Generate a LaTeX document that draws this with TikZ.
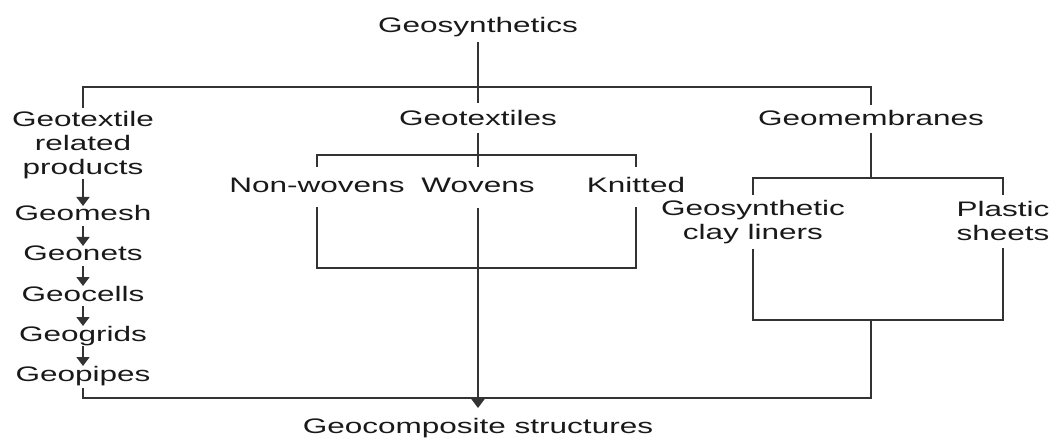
\documentclass[tikz,border=0pt]{standalone}
\usepackage{fontspec}
\setmainfont{Liberation Sans}[FakeStretch=1.5]
\usetikzlibrary{arrows.meta,calc}
\tikzset{
  lbl/.style={inner sep=0pt, outer sep=0pt, font=\fontsize{21}{24}\selectfont, text=black!90, text height=15pt, text depth=5pt, anchor=base},
  mlbl/.style={inner sep=0pt, outer sep=0pt, font=\fontsize{21}{24}\selectfont, text=black!90, align=center, anchor=north},
  conn/.style={draw=black!80, line width=1.6pt},
  arr/.style={conn, -{Triangle[width=13pt,length=9pt]}}
}
\begin{document}
\begin{tikzpicture}[x=1pt,y=-1pt]
\useasboundingbox (0,0) rectangle (1054,438);
% nodes
\node[lbl] (gs) at (478,33) {Geosynthetics};
\node[lbl] (gt) at (478,126) {Geotextiles};
\node[lbl] (gm) at (871,126) {Geomembranes};
\node[mlbl] (gtr) at (83,111) {Geotextile\\related\\products};
\node[lbl] (mesh) at (83,221) {Geomesh};
\node[lbl] (nets) at (83,261) {Geonets};
\node[lbl] (cells) at (83,301) {Geocells};
\node[lbl] (grids) at (83,341) {Geogrids};
\node[lbl] (pipes) at (83,381) {Geopipes};
\node[lbl] (nw) at (317,193) {Non-wovens};
\node[lbl] (wv) at (478,193) {Wovens};
\node[lbl] (kn) at (636,193) {Knitted};
\node[mlbl] (gcl) at (753,200) {Geosynthetic\\clay liners};
\node[mlbl] (ps) at (1003,201) {Plastic\\sheets};
\node[lbl] (gc) at (478,433) {Geocomposite structures};
% junctions
\coordinate (j1) at (478,87);
\coordinate (b1) at (478,155);
\coordinate (b2) at (478,268);
\coordinate (b3) at (871,178);
\coordinate (b4) at (871,320);
\coordinate (b5) at (478,398);
% connectors
\draw[conn, shorten <=4pt, shorten >=8pt] (gs.south) -- (gt.north);
\draw[conn, shorten <=3pt, shorten >=6pt] (gtr.north) |- (j1) -| (gm.north);
\draw[conn, shorten <=2pt, shorten >=11pt] (gt.south) -- (wv.north);
\draw[conn, shorten <=11pt, shorten >=11pt] (nw.north) |- (b1) -| (kn.north);
\draw[arr, shorten <=10pt, shorten >=10pt] (wv.south) -- (gc.north);
\draw[conn, shorten <=9pt, shorten >=9pt] (nw.south) |- (b2) -| (kn.south);
\draw[conn, shorten <=2pt] (gm.south) -- (b3);
\draw[conn, shorten <=5pt, shorten >=6pt] (gcl.north) |- (b3) -| (ps.north);
\draw[conn, shorten <=5pt, shorten >=8pt] (gcl.south) |- (b4) -| (ps.south);
\draw[conn] (b4) |- (b5);
\draw[conn, shorten <=2pt] (pipes.south) |- (b5);
\draw[arr] (gtr.south) -- (mesh.north);
\draw[arr] (mesh.south) -- (nets.north);
\draw[arr] (nets.south) -- (cells.north);
\draw[arr] (cells.south) -- (grids.north);
\draw[arr] (grids.south) -- (pipes.north);
\end{tikzpicture}
\end{document}
